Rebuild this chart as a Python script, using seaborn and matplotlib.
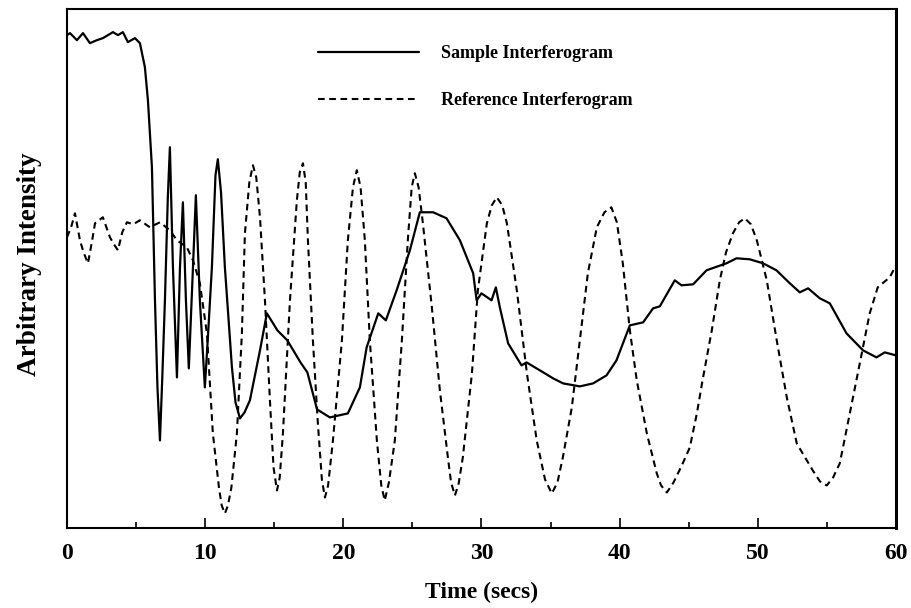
import matplotlib
matplotlib.use("Agg")
import matplotlib.pyplot as plt
import seaborn as sns
import pandas as pd

# ---- data (time in seconds, arbitrary intensity) ----
sample_time = [0.0, 0.22, 0.72, 1.16, 1.66, 2.17, 2.6, 3.33, 3.69, 4.05, 4.41, 4.92, 5.28,
               5.64, 5.86, 6.15, 6.37, 6.55, 6.73, 6.9, 7.09, 7.3, 7.45, 7.67, 7.96, 8.18,
               8.39, 8.61, 8.82, 9.12, 9.33, 9.62, 9.98, 10.2, 10.49, 10.75, 10.92, 11.15,
               11.43, 11.94, 12.2, 12.52, 12.85, 13.24, 13.97, 14.47, 15.23, 15.95, 16.9,
               17.4, 18.1, 19.03, 20.33, 21.2, 21.69, 22.53, 23.08, 23.86, 24.82, 25.54,
               26.5, 27.47, 28.44, 29.4, 29.65, 30.0, 30.73, 31.04, 31.33, 31.93, 32.9,
               33.26, 34.23, 35.19, 35.91, 37.12, 38.08, 39.05, 39.77, 40.74, 41.7, 42.42,
               42.91, 43.99, 44.48, 45.32, 46.29, 47.73, 48.46, 49.42, 50.38, 51.35, 52.32,
               53.04, 53.64, 54.49, 55.21, 56.42, 57.62, 58.59, 59.19, 60.0]
sample_intensity = [492, 494, 487, 494, 484, 487, 489, 495, 492, 495, 485, 489, 484,
                    460, 427, 360, 227, 140, 87, 150, 227, 330, 380, 260, 150, 260,
                    325, 227, 159, 260, 332, 227, 140, 190, 260, 352, 368, 335,
                    260, 160, 125, 109, 115, 127, 177, 214, 197, 187, 165,
                    155, 118, 110, 114, 140, 180, 214, 207, 237, 277, 315,
                    315, 309, 287, 254, 227, 234, 227, 240, 220, 184, 162,
                    165, 157, 149, 144, 141, 144, 152, 167, 202, 205, 219,
                    221, 247, 242, 243, 257, 264, 269, 268, 264, 257, 244,
                    235, 239, 229, 224, 194, 177, 170, 175, 172]

reference_time = [0.0, 0.3, 0.58, 0.94, 1.2, 1.52, 1.8, 2.03, 2.6, 3.11, 3.4, 3.69, 4.0,
                  4.34, 4.8, 5.28, 6.0, 6.73, 7.45, 7.96, 8.68, 9.12, 9.62, 10.13, 10.56,
                  11.0, 11.2, 11.43, 11.65, 11.9, 12.3, 12.66, 12.88, 13.2, 13.46, 13.7,
                  13.97, 14.33, 14.69, 14.95, 15.2, 15.4, 15.63, 16.14, 16.64, 16.85, 17.08,
                  17.28, 17.44, 17.8, 18.16, 18.45, 18.67, 18.9, 19.25, 19.9, 20.33, 20.7,
                  20.98, 21.25, 21.56, 21.92, 22.43, 22.75, 23.0, 23.3, 23.73, 24.24, 24.67,
                  24.95, 25.18, 25.45, 25.76, 26.41, 26.99, 27.57, 27.8, 28.08, 28.35, 28.65,
                  29.31, 29.74, 30.39, 30.75, 31.11, 31.5, 31.84, 32.56, 33.29, 34.0, 34.6,
                  35.09, 35.5, 35.89, 36.54, 37.12, 37.7, 38.35, 38.9, 39.4, 39.8, 40.23,
                  40.74, 41.24, 41.97, 42.69, 43.0, 43.42, 43.9, 44.5, 45.08, 45.59, 46.0,
                  46.67, 47.25, 47.7, 48.2, 48.65, 49.06, 49.5, 49.93, 50.65, 51.37, 52.1,
                  52.82, 53.98, 54.5, 54.99, 55.45, 55.93, 56.66, 57.38, 58.1, 58.68, 59.55,
                  60.0]
reference_intensity = [290, 300, 314, 287, 275, 264, 285, 304, 310, 290, 283, 277, 295,
                       305, 303, 307, 300, 305, 297, 287, 280, 267, 244, 194, 94,
                       40, 22, 14, 22, 40, 94, 194, 294, 345, 362, 350,
                       310, 227, 127, 60, 37, 50, 94, 227, 327, 355, 364,
                       345, 287, 187, 104, 48, 30, 42, 87, 187, 287, 340,
                       357, 340, 287, 187, 87, 42, 27, 45, 87, 187, 287,
                       340, 354, 340, 304, 220, 137, 70, 45, 32, 44, 70,
                       154, 237, 304, 322, 330, 322, 304, 237, 154, 87, 48,
                       34, 45, 70, 120, 187, 254, 300, 315, 320, 305, 264,
                       197, 147, 94, 54, 42, 35, 45, 62, 80, 114, 147,
                       197, 247, 275, 294, 305, 309, 303, 287, 247, 187, 130,
                       84, 57, 46, 42, 50, 64, 114, 164, 214, 240, 250,
                       262]

x_ticks = [0, 10, 20, 30, 40, 50, 60]
x_label = "Time (secs)"
y_label = "Arbitrary Intensity"
series_names = ["Sample Interferogram", "Reference Interferogram"]

sample_df = pd.DataFrame({"time": sample_time, "intensity": sample_intensity})
reference_df = pd.DataFrame({"time": reference_time, "intensity": reference_intensity})

sns.set_style("white")
plt.rcParams["font.family"] = ["Liberation Serif", "DejaVu Serif"]
plt.rcParams["font.weight"] = "bold"
plt.rcParams["text.color"] = "black"
plt.rcParams["axes.labelcolor"] = "black"
plt.rcParams["xtick.color"] = "black"
plt.rcParams["ytick.color"] = "black"

fig = plt.figure(figsize=(9.11, 6.08), dpi=100)
ax = fig.add_axes([0.0735, 0.1324, 0.91, 0.8526])

sns.lineplot(data=sample_df, x="time", y="intensity", ax=ax, color="black",
             linewidth=1.6, label=series_names[0], estimator=None)
sns.lineplot(data=reference_df, x="time", y="intensity", ax=ax, color="black",
             linewidth=1.5, linestyle=(0, (3.2, 2.2)), label=series_names[1], estimator=None)

ax.set_xlim(0, 60)
ax.set_ylim(0, 518)
ax.set_xticks(x_ticks)
ax.set_xticks([5, 15, 25, 35, 45, 55], minor=True)
ax.set_yticks([])
ax.tick_params(axis="x", which="major", direction="in", length=7, width=1.2,
               pad=11, labelsize=17, bottom=True, labelcolor="black")
ax.tick_params(axis="x", which="minor", direction="in", length=4, width=1.2, bottom=True)
for lab in ax.get_xticklabels():
    lab.set_fontweight("bold")

for side in ["left", "right", "top", "bottom"]:
    ax.spines[side].set_visible(True)
    ax.spines[side].set_color("black")
    ax.spines[side].set_linewidth(1.5)
ax.spines["right"].set_linewidth(2.2)

ax.set_xlabel(x_label, fontsize=17, fontweight="bold", labelpad=13, color="black")
ax.set_ylabel(y_label, fontsize=19.5, fontweight="bold", color="black")
ax.yaxis.set_label_coords(-0.03, 0.508)

leg = ax.legend(loc="upper left", bbox_to_anchor=(0.303, 0.93), frameon=False,
                handlelength=5.6, handletextpad=1.2, labelspacing=1.66,
                borderpad=0, borderaxespad=0,
                prop={"family": "Liberation Serif", "weight": "bold", "size": 13})
for t in leg.get_texts():
    t.set_color("black")

fig.savefig("out.png", dpi=100)
